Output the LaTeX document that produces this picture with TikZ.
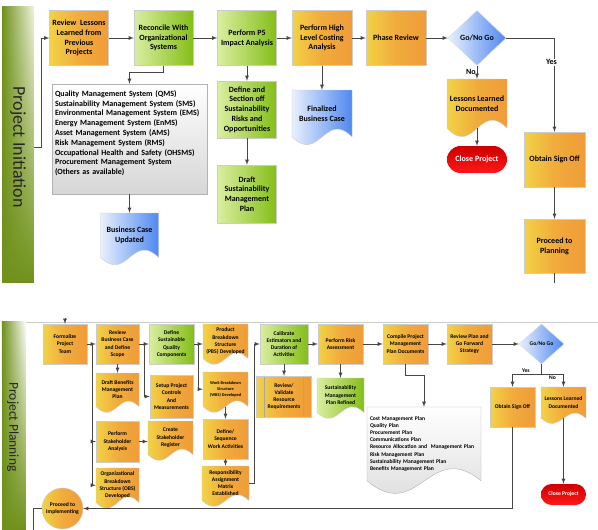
\documentclass[tikz,border=0pt]{standalone}
\usepackage{fontspec}
\setmainfont{Carlito}
\usetikzlibrary{shapes.geometric,fadings}

\definecolor{ornA}{RGB}{242,210,70}
\definecolor{ornB}{RGB}{240,156,56}
\definecolor{grnA}{RGB}{218,238,160}
\definecolor{grnB}{RGB}{132,190,24}
\definecolor{bluA}{RGB}{232,240,253}
\definecolor{bluB}{RGB}{80,136,240}
\definecolor{redA}{RGB}{205,0,0}
\definecolor{redB}{RGB}{255,24,24}
\definecolor{gryB}{RGB}{214,214,214}
\definecolor{barD}{RGB}{112,146,28}
\definecolor{barL}{RGB}{240,244,222}
\definecolor{lnclr}{RGB}{70,70,70}

\newcommand{\bigtxt}{\fontsize{8}{9.8}\selectfont\bfseries}
\newcommand{\smtxt}{\fontsize{5.6}{7.2}\selectfont\bfseries}
\newcommand{\tinytxt}{\fontsize{4.3}{6}\selectfont\bfseries}

\newcommand{\docshape}[8][]{%
  \path[#2] ({#4-#6/2},#5) -- ({#4+#6/2},#5) -- ({#4+#6/2},{#5+0.82*#7})
     .. controls ({#4+0.05*#6},{#5+0.35*#7}) and ({#4-0.05*#6},{#5+1.3*#7})
     .. ({#4-#6/2},{#5+0.82*#7}) -- cycle;
  \node[doctxt,minimum width=#6,minimum height={0.82*#7},#1] (#3) at (#4,{#5+0.41*#7}) {#8};}

\tikzset{
  orgfill/.style={draw=black!20,left color=ornA,right color=ornB,middle color=ornB!72!ornA},
  grnfill/.style={draw=black!20,left color=grnA,right color=grnB},
  blufill/.style={draw=black!20,left color=bluA,right color=bluB},
  gryfill/.style={draw=black!30,top color=white,bottom color=gryB},
  box/.style={rectangle,align=center,inner sep=1pt},
  bigbox/.style={box,font=\bigtxt,minimum width=59,minimum height=55},
  smbox/.style={box,font=\smtxt,minimum width=45,minimum height=40},
  doctxt/.style={rectangle,align=center,inner sep=1pt},
  dmd/.style={diamond,draw=black!15,left color=bluA,right color=bluB,inner sep=0pt,align=center},
  stopbox/.style={rectangle,top color=redA,bottom color=redB,text=white,align=center,inner sep=1pt},
  valbox/.style={smbox,orgfill,minimum width=55,minimum height=41,
    path picture={
      \draw[black!35] ([xshift=8pt]path picture bounding box.north west) -- ([xshift=8pt]path picture bounding box.south west);
      \draw[black!35] ([xshift=-8pt]path picture bounding box.north east) -- ([xshift=-8pt]path picture bounding box.south east);}},
  link/.style={draw=lnclr,line width=0.8pt},
  arr/.style={link,-latex},
  lbl/.style={font=\bigtxt,inner sep=1pt},
  slbl/.style={font=\smtxt,inner sep=1pt}
}

\begin{document}
\begin{tikzpicture}[x=1pt,y=-1pt]
  \path[fill=white,use as bounding box] (0,0) rectangle (598,530);

  \fill[barD] (2,7) rectangle (34,283);
  \shade[left color=barD,right color=barL,path fading=south] (2,7) rectangle (34,283);
  \node[rotate=-90,font=\fontsize{18}{20}\selectfont,text=black!85] (title1) at (18,147) {Project Initiation};
  \coordinate (s1) at (34,147);
  \coordinate (e1) at (554.5,283);

  \node[bigbox,orgfill] (lessons) at (79,38) {Review\ \ Lessons\\Learned from\\Previous\\Projects};
  \node[bigbox,grnfill] (reconcile) at (163.5,38) {Reconcile With\\Organizational\\Systems};
  \node[bigbox,grnfill] (impact) at (247,38) {Perform P5\\Impact Analysis};
  \node[bigbox,orgfill,minimum width=60] (costing) at (322,38) {Perform High\\Level Costing\\Analysis};
  \node[bigbox,orgfill,minimum width=60] (phase) at (396,38) {Phase Review};
  \node[dmd,font=\bigtxt,minimum width=58,minimum height=55] (go1) at (477,38) {Go/No Go};
  \docshape[font=\bigtxt]{orgfill}{nodoc1}{477}{79}{60}{60}{Lessons Learned\\Documented}
  \node[stopbox,font=\bigtxt,minimum width=60,minimum height=27,rounded corners=13.5] (close1) at (477,159.5) {Close Project};
  \node[bigbox,orgfill,minimum width=61] (sign1) at (554.5,159.5) {Obtain Sign Off};
  \node[bigbox,orgfill,minimum width=61,minimum height=54] (proceed1) at (554.5,246) {Proceed to\\Planning};
  \node[box,gryfill,font=\bigtxt,align=left,text width=149,minimum width=155,minimum height=110,inner xsep=3pt] (list1) at (129.5,139)
    {Quality Management System (QMS)\\Sustainability Management System (SMS)\\Environmental Management System (EMS)\\Energy Management System (EnMS)\\Asset Management System (AMS)\\Risk Management System (RMS)\\Occupational Health and Safety (OHSMS)\\Procurement Management System\\(Others as available)\\\strut};
  \docshape[font=\bigtxt]{blufill}{bcupd}{129.5}{213}{58}{54}{Business Case\\Updated}
  \node[bigbox,grnfill,minimum height=57] (define1) at (247,109.5) {Define and\\Section off\\Sustainability\\Risks and\\Opportunities};
  \node[bigbox,grnfill,minimum height=58] (draft1) at (247,194) {Draft\\Sustainability\\Management\\Plan};
  \docshape[font=\bigtxt]{blufill}{final1}{322}{90}{60}{57}{Finalized\\Business Case}

  \draw[arr] (s1) -- ++(7,0) |- (lessons);
  \draw[arr] (lessons) -- (reconcile);
  \draw[arr] (reconcile) -- (impact);
  \draw[arr] (impact) -- (costing);
  \draw[arr] (costing) -- (phase);
  \draw[arr] (phase) -- (go1);
  \draw[arr] (reconcile.south) -- ++(0,7) -| (list1.north);
  \draw[arr] (list1) -- (bcupd);
  \draw[arr] (impact) -- (define1);
  \draw[arr] (define1) -- (draft1);
  \draw[arr] (costing) -- (final1);
  \draw[arr] (go1) -- node[lbl,left]{No} (nodoc1);
  \draw[arr] (nodoc1) -- (close1);
  \draw[arr] (go1) -| node[lbl,pos=0.63,fill=white,xshift=-3pt]{Yes} (sign1);
  \draw[arr] (sign1) -- (proceed1);
  \draw[link] (proceed1) -- (e1);

  \fill[barD] (2,322) rectangle (26,530);
  \shade[left color=barD,right color=white,path fading=south] (2,322) rectangle (26,530);
  \node[rotate=-90,font=\fontsize{13.5}{15}\selectfont,text=black!85] (title2) at (13,427) {Project Planning};
  \draw[black!20] (26,322) -- (598,322);
  \coordinate (s2) at (65,318);
  \coordinate (e2) at (33,530);

  \node[smbox,orgfill,minimum width=44] (formalize) at (65,344) {Formalize\\Project\\Team};
  \node[smbox,orgfill,minimum width=43] (reviewbc) at (117.5,344) {Review\\Business Case\\and Define\\Scope};
  \node[smbox,grnfill] (sustq) at (171.5,344) {Define\\Sustainable\\Quality\\Components};
  \docshape[font=\smtxt]{orgfill}{pbs}{225.5}{324}{45}{42}{Product\\Breakdown\\Structure\\(PBS) Developed}
  \node[smbox,grnfill,minimum width=48] (calib) at (284,344) {Calibrate\\Estimators and\\Duration of\\Activities};
  \node[smbox,orgfill] (risk) at (340.5,344) {Perform Risk\\Assessment};
  \node[smbox,orgfill] (compile) at (405.5,344) {Compile Project\\Management\\Plan Documents};
  \node[smbox,orgfill] (reviewplan) at (469.5,344) {Review Plan and\\Go Forward\\Strategy};
  \node[dmd,font=\smtxt,minimum width=45,minimum height=40] (go2) at (541.5,344) {Go/No Go};
  \node[smbox,orgfill] (sign2) at (512.5,407) {Obtain Sign Off};
  \docshape[font=\smtxt]{orgfill}{nodoc2}{563.5}{387}{45}{38}{Lessons Learned\\Documented}
  \node[stopbox,font=\smtxt,minimum width=45,minimum height=21,rounded corners=10.5] (close2) at (563.5,494.5) {Close Project};
  \docshape[font=\smtxt]{orgfill}{bens}{117.5}{373}{43}{41}{Draft Benefits\\Management\\Plan}
  \node[smbox,orgfill,minimum width=43,minimum height=43] (setup) at (171.5,396.5) {Setup Project\\Controls\\And\\Measurements};
  \docshape[font=\tinytxt]{orgfill}{wbs}{225.5}{372}{45}{42}{Work Breakdown\\Structure\\(WBS) Developed}
  \node[smbox,orgfill] (seq) at (225.5,439) {Define/\\Sequence\\Work Activities};
  \docshape[font=\smtxt]{orgfill}{ram}{225.5}{466}{47}{42}{Responsibility\\Assignment\\Matrix\\Established}
  \node[valbox] (revval) at (284,396.5) {Review/\\Validate\\Resource\\Requirements};
  \docshape[font=\smtxt]{grnfill}{smpr}{340.5}{378}{47}{42}{Sustainability\\Management\\Plan Refined}
  \node[smbox,orgfill,minimum width=43,minimum height=41] (stake) at (117.5,441.5) {Perform\\Stakeholder\\Analysis};
  \docshape[font=\smtxt]{orgfill}{reg}{170.5}{421}{45}{41}{Create\\Stakeholder\\Register}
  \docshape[font=\smtxt]{orgfill}{obs}{117.5}{468}{43}{42}{Organizational\\Breakdown\\Structure (OBS)\\Developed}
  \node[circle,orgfill,font=\smtxt,align=center,inner sep=0pt,minimum size=41] (impl) at (62.5,508.5) {Proceed to\\Implementing};
  \docshape[font=\smtxt,align=left,text width=108]{gryfill}{list2}{424}{407}{114}{90}{Cost Management Plan\\Quality Plan\\Procurement Plan\\Communications Plan\\Resource Allocation and\ \ Management Plan\\Risk Management Plan\\Sustainability Management Plan\\Benefits Management Plan}

  \draw[arr] (s2) -- (formalize);
  \draw[arr] (formalize) -- (reviewbc);
  \draw[arr] (formalize.east) -- ++(5,0) |- (stake);
  \draw[arr] (formalize.east) ++(5,0) |- (obs);
  \draw[arr] (reviewbc) -- (sustq);
  \draw[arr] (reviewbc.east) -- ++(5,0) |- (setup);
  \draw[arr] (reviewbc) -- (bens);
  \draw[arr] (stake) -- (stake -| reg.west);
  \draw[arr] (sustq) -- (sustq -| pbs.west);
  \draw[arr] (sustq.east) -- ++(4.5,0) |- (wbs);
  \draw[arr] (wbs) -- (seq);
  \draw[arr] (seq) -- (ram);
  \draw[arr] (ram.east) -- ++(5,0) |- (calib);
  \draw[arr] (calib) -- (risk);
  \draw[arr] (calib) -- (revval);
  \draw[arr] (risk) -- (compile);
  \draw[arr] (risk) -- (smpr);
  \draw[arr] (compile.south) -- ++(0,11) -| (list2.north);
  \draw[arr] (compile) -- (reviewplan);
  \draw[arr] (reviewplan) -- (go2);
  \path (go2.south) ++(0,10) coordinate (fork);
  \draw[link] (go2) -- (fork);
  \draw[arr] (fork) -| node[slbl,pos=0.27,above]{Yes} (sign2);
  \draw[arr] (fork) -| node[slbl,pos=0.25,below]{No} (nodoc2);
  \draw[arr] (nodoc2) -- (close2);
  \draw[arr] (sign2) |- (impl);
  \draw[link] (impl) -| (e2);
\end{tikzpicture}
\end{document}
